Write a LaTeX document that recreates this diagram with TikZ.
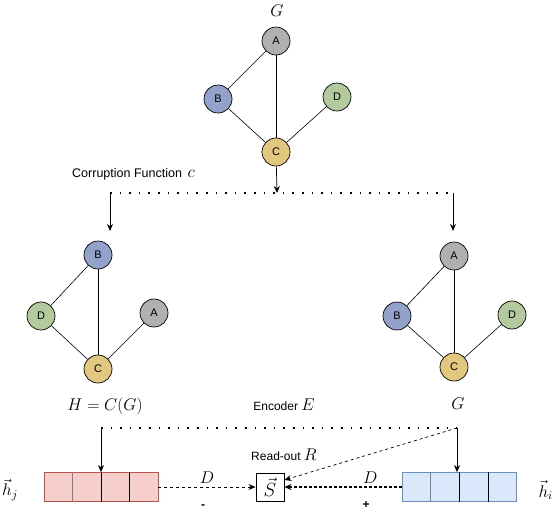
\RequirePackage{fix-cm}
\documentclass[tikz,border=0pt]{standalone}
\usepackage{fontspec}
\newfontfamily\labelfont{Liberation Sans}
\usetikzlibrary{arrows.meta,calc}
\definecolor{nodegray}{RGB}{176,176,176}
\definecolor{nodeblue}{RGB}{146,162,202}
\definecolor{nodegreen}{RGB}{178,202,158}
\definecolor{nodeyellow}{RGB}{226,200,126}
\definecolor{negfill}{RGB}{248,206,204}
\definecolor{negline}{RGB}{184,84,80}
\definecolor{posfill}{RGB}{218,232,252}
\definecolor{posline}{RGB}{108,142,191}
\newcommand{\mathlabel}[1]{\fontsize{17}{19}\selectfont$#1$}
\begin{document}
\begin{tikzpicture}[x=1pt,y=-1pt,auto,
    vertex/.style ={circle, draw, line width=0.7pt, minimum size=28pt, inner sep=0pt,
                    font=\labelfont\fontsize{11}{13}\selectfont},
    link/.style ={line width=0.6pt},
    feed/.style ={line width=0.7pt, -{Stealth[length=7pt,width=6pt]}},
    split/.style ={line width=1.6pt, dash pattern=on 1.6pt off 8pt},
    embed/.style ={rectangle, draw, line width=0.8pt, minimum width=114pt, minimum height=29pt, inner sep=0pt},
    txt/.style ={font=\labelfont\fontsize{12}{14}\selectfont, inner sep=0pt}]
   \useasboundingbox (0,0) rectangle (554,512);

   % original graph G
   \node (Gtop) at (277,11) {\mathlabel{G}};
   \node[vertex, fill=nodegray] (A) at (276,41)  {A};
   \node[vertex, fill=nodeblue] (B)  at (218,99)  {B};
   \node[vertex, fill=nodegreen] (D)  at (337,97)  {D};
   \node[vertex, fill=nodeyellow] (C) at (276,152)  {C};

   \draw[link] (A) to  (B);
   \draw[link] (A) to  (C);
   \draw[link] (B) to  (C);
   \draw[link] (D) to  (C);

   % corruption
   \node[txt, anchor=west, font=\labelfont\fontsize{12.5}{14}\selectfont] (corrupt) at (72,174) {Corruption Function\, \mathlabel{c}};
   \coordinate (cmid) at (277,193);
   \coordinate (cleft) at (110,193);
   \coordinate (cright) at (453,193);
   \coordinate (cleftend) at (110,231);
   \coordinate (crightend) at (453,231);
   \draw[feed] (C) to (cmid);
   \draw[split] (cleft) to (cright);
   \draw[feed] (cleft) to (cleftend);
   \draw[feed] (cright) to (crightend);

   % corrupted graph H
   \node[vertex, fill=nodeblue] (HB) at (98,255)  {B};
   \node[vertex, fill=nodegreen] (HD)  at (41,316)  {D};
   \node[vertex, fill=nodegray] (HA)  at (154,313)  {A};
   \node[vertex, fill=nodeyellow] (HC) at (98,369)  {C};

   \draw[link] (HB) to  (HD);
   \draw[link] (HB) to  (HC);
   \draw[link] (HD) to  (HC);
   \draw[link] (HA) to  (HC);

   % copy of G
   \node[vertex, fill=nodegray] (GA) at (454,256)  {A};
   \node[vertex, fill=nodeblue] (GB)  at (397,316)  {B};
   \node[vertex, fill=nodegreen] (GD)  at (512,315)  {D};
   \node[vertex, fill=nodeyellow] (GC) at (454,367)  {C};

   \draw[link] (GA) to  (GB);
   \draw[link] (GA) to  (GC);
   \draw[link] (GB) to  (GC);
   \draw[link] (GD) to  (GC);

   % encoder
   \node (Hlabel) at (105,406) {\mathlabel{H=C(G)}};
   \node[txt] (encoder) at (284,405) {Encoder \mathlabel{E}};
   \node (Glabel) at (458,404) {\mathlabel{G}};
   \node[txt] (readout) at (284,455) {Read-out \mathlabel{R}};

   \node[embed, draw=negline, fill=negfill] (hj) at (101,487) {};
   \node[embed, draw=posline, fill=posfill] (hi) at (459.5,487) {};
   \draw[gray, line width=1.3pt] ($(hj.north west)!0.25!(hj.north east)$) -- ($(hj.south west)!0.25!(hj.south east)$);
   \draw[line width=0.8pt] ($(hj.north west)!0.5!(hj.north east)$) -- ($(hj.south west)!0.5!(hj.south east)$);
   \draw[line width=1.3pt] ($(hj.north west)!0.75!(hj.north east)$) -- ($(hj.south west)!0.75!(hj.south east)$);
   \draw[gray, line width=1.3pt] ($(hi.north west)!0.25!(hi.north east)$) -- ($(hi.south west)!0.25!(hi.south east)$);
   \draw[line width=0.8pt] ($(hi.north west)!0.5!(hi.north east)$) -- ($(hi.south west)!0.5!(hi.south east)$);
   \draw[line width=0.8pt] ($(hi.north west)!0.75!(hi.north east)$) -- ($(hi.south west)!0.75!(hi.south east)$);

   \node[rectangle, draw, line width=0.8pt, minimum size=28pt, inner sep=0pt,
         font=\fontsize{19}{21}\selectfont] (S) at (270,487) {$\vec{S}$};

   \node[anchor=west, inner sep=1pt] (hjlabel) at (1,490) {\mathlabel{\vec{h}_j}};
   \node[anchor=east, inner sep=1pt] (hilabel) at (554,490) {\mathlabel{\vec{h}_i}};

   \coordinate (eleft) at (101,428);
   \coordinate (eright) at (457,428);
   \draw[split] (eleft) to (eright);
   \draw[feed] (eleft) to (hj.north);
   \draw[feed] (eright) to ([xshift=-2.5pt]hi.north);
   \draw[feed, dashed] (eright) to ([yshift=7pt]S.east);

   \draw[feed, dashed] (hj) to node[pos=0.5, inner sep=3pt] {\mathlabel{D}} (S);
   \draw[feed, line width=1.4pt, dash pattern=on 3pt off 2pt] (hi) to node[pos=0.27, swap, inner sep=3pt] {\mathlabel{D}} (S);

   \node[txt, font=\labelfont\bfseries\fontsize{12}{14}\selectfont] (minus) at (203,507) {-};
   \node[txt, font=\labelfont\bfseries\fontsize{12}{14}\selectfont] (plus) at (366,505) {+};
 \end{tikzpicture}
\end{document}
